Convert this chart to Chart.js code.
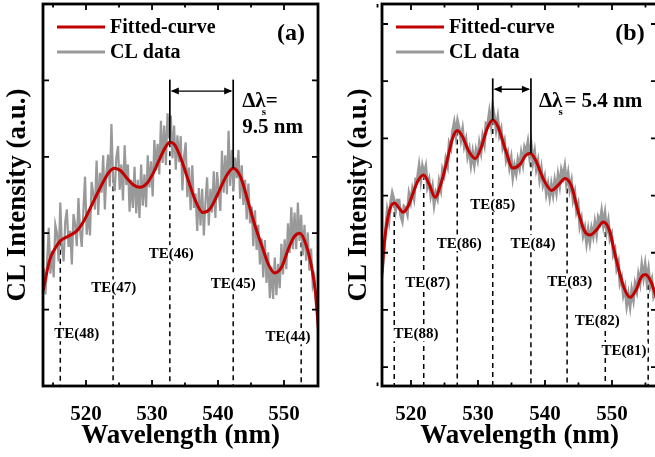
<!DOCTYPE html>
<html><head><meta charset="utf-8">
<script src="https://cdn.jsdelivr.net/npm/chart.js@4.4.0/dist/chart.umd.min.js"></script>
<style>
html,body{margin:0;padding:0;background:#fff;overflow:hidden;width:655px;height:457px;position:relative;}
canvas{position:absolute;top:0;}
</style></head><body>
<canvas id="ca" width="330" height="457" style="left:0"></canvas>
<canvas id="cb" width="335" height="457" style="left:330px"></canvas>
<script>
// ---------------- Panel (a) data ----------------
const A_fitWl = [513.5,514.5,515.3,516.1,517.3,518.6,519.6,520.6,521.6,522.6,523.5,524.3,525.2,526.2,527.2,528.2,529.2,530.2,531.2,532.0,532.7,533.5,534.5,535.5,536.6,537.7,538.8,540.0,541.2,542.3,543.4,544.5,545.6,546.7,547.7,548.6,549.6,550.6,551.5,552.4,553.3,554.2,554.8,555.2];
const A_fitVal = [1.25,1.65,1.80,1.90,1.96,2.03,2.15,2.32,2.50,2.67,2.80,2.85,2.82,2.72,2.63,2.60,2.65,2.79,2.98,3.12,3.19,3.15,2.95,2.69,2.42,2.27,2.32,2.52,2.74,2.85,2.74,2.43,2.10,1.82,1.58,1.48,1.55,1.78,1.95,2.00,1.86,1.55,1.20,0.75];
const A_clStart = 513.6, A_clStep = 0.25;
const A_clVal = [1.54,1.20,1.62,2.07,1.47,1.77,1.42,2.11,2.00,1.63,
2.40,1.82,1.63,2.15,2.31,1.82,2.03,1.59,2.25,2.12,
1.83,2.46,2.04,1.82,2.30,2.74,1.98,2.28,1.97,2.67,
2.51,2.31,2.95,2.24,2.79,2.53,3.02,2.31,2.80,3.03,
2.61,3.43,2.70,2.55,3.00,3.14,2.57,2.90,2.43,3.15,
2.63,2.90,2.28,2.70,2.33,2.87,2.26,2.70,2.20,2.90,
2.36,2.77,2.34,3.02,2.60,2.94,2.48,3.22,2.82,3.17,
2.77,3.47,2.92,3.41,2.89,3.57,3.24,3.54,2.98,3.41,
2.83,3.28,2.93,3.27,2.56,3.00,3.19,2.47,2.86,2.30,
2.89,2.33,2.52,2.03,2.59,2.10,2.58,1.97,2.42,2.73,
2.10,2.58,2.27,2.81,2.20,2.80,2.59,2.29,3.08,2.53,
3.02,2.51,3.34,2.62,3.09,2.55,2.99,2.72,3.09,2.45,
2.89,2.37,2.70,2.18,2.65,2.13,2.35,1.83,2.30,1.78,
2.11,1.59,1.93,1.42,1.91,1.35,1.75,1.15,1.56,1.14,
1.68,1.19,1.60,1.28,1.86,1.46,1.92,1.53,2.13,1.74,
2.34,1.79,2.27,1.79,2.40,1.90,2.24,1.71,2.11,1.64,
2.01,1.51,1.80,1.32,1.42,1.03,0.95];
const A_modes = ['TE(48)','TE(47)','TE(46)','TE(45)','TE(44)'];
const A_peakWl = [516.1,524.1,532.7,542.3,552.6];
const A_peakVal = [1.90,2.85,3.19,2.85,2.00];
const A_labelWl = [518.6,524.2,532.9,542.3,550.6];
const A_labelVal = [0.69,1.29,1.74,1.35,0.65];
const A_spacingWl = [532.7,542.3];
const A_xTicks = [520,530,540,550];
const A_xMinor = [515,525,535,545];
const A_yTicks = [1,2,3,4];

// ---------------- Panel (b) data ----------------
const B_fitWl = [515.6,516.0,516.4,516.9,517.5,518.1,518.8,519.5,520.3,521.0,521.9,522.7,523.6,524.5,525.4,526.2,526.9,527.7,528.6,529.6,530.5,531.4,532.2,533.0,534.1,535.2,536.3,537.1,537.8,538.6,539.8,541.0,542.1,543.0,543.9,545.0,545.9,546.7,547.7,548.7,549.6,550.5,551.7,552.7,553.6,554.4,555.0,555.8,556.8];
const B_fitVal = [2.55,3.15,3.52,3.78,3.87,3.80,3.71,3.80,4.04,4.25,4.36,4.20,3.97,4.22,4.62,5.00,5.14,5.03,4.78,4.65,4.85,5.18,5.32,5.20,4.80,4.48,4.55,4.70,4.74,4.62,4.28,4.09,4.20,4.30,4.18,3.70,3.38,3.31,3.40,3.54,3.40,2.95,2.42,2.22,2.35,2.58,2.62,2.50,2.15];
const B_clStart = 515.7, B_clStep = 0.25;
const B_clVal = [2.65,2.98,3.40,3.73,3.56,3.87,4.04,3.93,3.74,3.92,
3.92,3.66,3.56,3.81,3.78,3.68,4.02,3.89,4.10,3.96,
4.29,4.29,4.51,4.27,4.51,4.38,4.50,4.16,4.27,4.01,
4.15,3.85,4.04,3.95,4.24,4.11,4.45,4.36,4.63,4.52,
4.91,4.83,5.12,5.27,5.06,5.30,5.17,4.98,5.15,4.87,
4.98,4.69,4.81,4.55,4.75,4.55,4.78,4.64,4.91,4.76,
5.03,4.90,5.26,5.24,5.45,5.24,5.55,5.38,5.16,5.35,
5.06,5.16,4.85,4.95,4.63,4.74,4.50,4.65,4.33,4.52,
4.39,4.62,4.49,4.73,4.56,4.84,4.76,4.93,4.68,4.88,
4.59,4.76,4.47,4.60,4.30,4.47,4.20,4.32,4.04,4.19,
3.98,4.19,4.02,4.25,4.07,4.35,4.18,4.44,4.33,4.50,
4.21,4.38,4.11,4.25,3.93,4.05,3.73,3.84,3.47,3.59,
3.31,3.43,3.18,3.39,3.19,3.42,3.29,3.52,3.33,3.61,
3.53,3.72,3.49,3.68,3.39,3.55,3.24,3.32,2.97,3.05,
2.73,2.83,2.47,2.56,2.27,2.39,2.09,2.27,2.07,2.34,
2.18,2.45,2.33,2.61,2.47,2.77,2.57,2.78,2.51,2.70,
2.42,2.53,2.25,2.34,2.12];
const B_modes = ['TE(88)','TE(87)','TE(86)','TE(85)','TE(84)','TE(83)','TE(82)','TE(81)'];
const B_peakWl = [517.5,521.9,526.9,532.2,537.9,543.3,549.0,555.4];
const B_peakVal = [3.87,4.36,5.14,5.32,4.74,4.28,3.52,2.60];
const B_labelWl = [520.75,522.5,527.2,532.2,538.2,543.7,547.8,551.8];
const B_labelVal = [1.59,2.49,3.17,3.85,3.17,2.50,1.82,1.30];
const B_spacingWl = [532.2,537.9];
const B_xTicks = [520,530,540,550];
const B_xMinor = [515,525,535,545,555];
const B_yTicks = [1,2,3,4,5,6,7];

const SERIF = '"Liberation Serif", "Times New Roman", serif';
const RED = '#c20000', GRAY = '#999999';

function makeDecor(c) {
  return {
    id: 'decor',
    beforeDatasetsDraw(chart) {
      const {ctx, chartArea, scales: {x, y}} = chart;
      ctx.save();
      ctx.strokeStyle = '#000'; ctx.lineWidth = 1.5; ctx.setLineDash([5, 4]);
      c.peakWl.forEach((p, i) => {
        const px = x.getPixelForValue(p);
        ctx.beginPath();
        ctx.moveTo(px, y.getPixelForValue(c.peakVal[i]));
        ctx.lineTo(px, chartArea.bottom);
        ctx.stroke();
      });
      ctx.setLineDash([]);
      ctx.font = 'bold 15px ' + SERIF;
      ctx.textAlign = 'center'; ctx.textBaseline = 'middle';
      c.modes.forEach((m, i) => {
        const cx = x.getPixelForValue(c.labelWl[i]);
        const cy = y.getPixelForValue(c.labelVal[i]);
        const w = ctx.measureText(m).width;
        ctx.fillStyle = '#fff';
        ctx.fillRect(cx - w / 2 - 1, cy - 8, w + 2, 16);
        ctx.fillStyle = '#000';
        ctx.fillText(m, cx, cy + 1);
      });
      ctx.restore();
    },
    afterDatasetsDraw(chart) {
      const {ctx, chartArea, scales: {x, y}} = chart;
      ctx.save();
      ctx.strokeStyle = '#000'; ctx.fillStyle = '#000'; ctx.lineWidth = 1.7;
      const yTop = y.getPixelForValue(c.solidTop);
      const xs = c.spacingWl.map(w => x.getPixelForValue(w));
      c.spacingWl.forEach((w, i) => {
        const pv = c.peakVal[c.peakWl.indexOf(w)];
        ctx.beginPath();
        ctx.moveTo(xs[i], y.getPixelForValue(pv));
        ctx.lineTo(xs[i], yTop);
        ctx.stroke();
      });
      const ay = y.getPixelForValue(c.arrowVal);
      ctx.lineWidth = 1.4;
      ctx.beginPath(); ctx.moveTo(xs[0] + 2, ay); ctx.lineTo(xs[1] - 2, ay); ctx.stroke();
      const head = (tip, dir) => {
        ctx.beginPath();
        ctx.moveTo(tip, ay);
        ctx.lineTo(tip - dir * 8, ay - 3.5);
        ctx.lineTo(tip - dir * 8, ay + 3.5);
        ctx.closePath(); ctx.fill();
      };
      head(xs[0] + 1, -1); head(xs[1] - 1, 1);
      const x0 = xs[1] + c.textDx;
      const b1 = chartArea.top + 103;
      ctx.textAlign = 'left'; ctx.textBaseline = 'alphabetic';
      ctx.font = 'bold 21px ' + SERIF;
      ctx.fillText('\u0394\u03bb', x0, b1);
      const w = ctx.measureText('\u0394\u03bb').width;
      ctx.fillText(c.eqText, x0 + w + c.eqGap, b1);
      if (c.line2) ctx.fillText(c.line2, x0, chartArea.top + 129);
      ctx.font = 'bold 11px ' + SERIF;
      ctx.fillText('s', x0 + w - 4, b1 + 8);
      ctx.restore();
    },
    afterDraw(chart) {
      const {ctx, chartArea: a, scales: {x, y}} = chart;
      ctx.save();
      ctx.strokeStyle = '#000'; ctx.lineWidth = 1.8;
      ctx.beginPath();
      c.xTicks.forEach(v => {
        const px = x.getPixelForValue(v);
        ctx.moveTo(px, a.bottom); ctx.lineTo(px, a.bottom - 6);
        ctx.moveTo(px, a.top); ctx.lineTo(px, a.top + 6);
      });
      c.xMinor.forEach(v => {
        const px = x.getPixelForValue(v);
        ctx.moveTo(px, a.bottom); ctx.lineTo(px, a.bottom - 3.5);
        ctx.moveTo(px, a.top); ctx.lineTo(px, a.top + 3.5);
      });
      c.yTicks.forEach(v => {
        const py = y.getPixelForValue(v);
        ctx.moveTo(a.left, py); ctx.lineTo(a.left + 6, py);
        ctx.moveTo(a.right, py); ctx.lineTo(a.right - 6, py);
      });
      ctx.stroke();
      ctx.lineWidth = 2.8;
      ctx.strokeRect(a.left, a.top, a.right - a.left, a.bottom - a.top);
      const items = [[RED, 'Fitted-curve', 23], [GRAY, 'CL data', 48]];
      ctx.font = 'bold 20px ' + SERIF;
      ctx.textBaseline = 'middle'; ctx.textAlign = 'left';
      items.forEach(([col, txt, dy]) => {
        ctx.strokeStyle = col; ctx.lineWidth = 3;
        ctx.beginPath();
        ctx.moveTo(a.left + 14, a.top + dy); ctx.lineTo(a.left + 62, a.top + dy);
        ctx.stroke();
        ctx.fillStyle = '#000';
        ctx.fillText(txt, a.left + 67, a.top + dy + 1);
      });
      ctx.font = 'bold 24px ' + SERIF;
      ctx.textAlign = 'center';
      ctx.fillText(c.panel, a.right - 27, a.top + 30);
      ctx.restore();
    }
  };
}

function makeChart(id, c) {
  const fit = c.fitWl.map((w, i) => ({x: w, y: c.fitVal[i]}));
  const cl = c.clVal.map((v, i) => ({x: +(c.clStart + i * c.clStep).toFixed(2), y: v}));
  return new Chart(document.getElementById(id), {
    type: 'line',
    data: {
      datasets: [
        {label: 'Fitted-curve', data: fit, borderColor: RED, borderWidth: 3,
         pointRadius: 0, cubicInterpolationMode: 'monotone', fill: false},
        {label: 'CL data', data: cl, borderColor: GRAY, borderWidth: c.clWidth,
         pointRadius: 0, tension: 0, fill: false}
      ]
    },
    options: {
      responsive: false, animation: false, devicePixelRatio: 1,
      layout: {padding: {top: 4, right: c.padRight, bottom: 0, left: 0}},
      plugins: {legend: {display: false}, tooltip: {enabled: false}},
      scales: {
        x: {
          type: 'linear', min: c.xMin, max: c.xMax,
          grid: {display: false}, border: {display: false},
          afterBuildTicks: s => { s.ticks = c.xTicks.map(v => ({value: v})); },
          afterFit: s => { s.height = 71; },
          ticks: {color: '#000', padding: 8, maxRotation: 0,
                  font: {family: SERIF, weight: 'bold', size: 21, lineHeight: 1.2}},
          title: {display: true, text: 'Wavelength (nm)', color: '#000',
                  padding: {top: 0, bottom: 5},
                  font: {family: SERIF, weight: 'bold', size: 27, lineHeight: 1.2}}
        },
        y: {
          min: c.yMin, max: c.yMax,
          grid: {display: false}, border: {display: false},
          ticks: {display: false},
          afterFit: s => { s.width = c.yWidth; },
          title: {display: true, text: 'CL Intensity (a.u.)', color: '#000',
                  padding: {top: c.yTitlePad, bottom: 0},
                  font: {family: SERIF, weight: 'bold', size: 27, lineHeight: 1.2}}
        }
      }
    },
    plugins: [makeDecor(c)]
  });
}

makeChart('ca', {
  fitWl: A_fitWl, fitVal: A_fitVal, clStart: A_clStart, clStep: A_clStep, clVal: A_clVal,
  modes: A_modes, peakWl: A_peakWl, peakVal: A_peakVal, labelWl: A_labelWl, labelVal: A_labelVal,
  spacingWl: A_spacingWl, solidTop: 4.01, arrowVal: 3.86,
  xTicks: A_xTicks, xMinor: A_xMinor, yTicks: A_yTicks,
  xMin: 513.48, xMax: 555.15, yMin: 0, yMax: 5,
  yWidth: 43, padRight: 12, yTitlePad: 2, clWidth: 2.2,
  textDx: 9, eqText: '=', eqGap: 0, line2: '9.5 nm', panel: '(a)'
});

makeChart('cb', {
  fitWl: B_fitWl, fitVal: B_fitVal, clStart: B_clStart, clStep: B_clStep, clVal: B_clVal,
  modes: B_modes, peakWl: B_peakWl, peakVal: B_peakVal, labelWl: B_labelWl, labelVal: B_labelVal,
  spacingWl: B_spacingWl, solidTop: 6.05, arrowVal: 5.86,
  xTicks: B_xTicks, xMinor: B_xMinor, yTicks: B_yTicks,
  xMin: 515.67, xMax: 556.72, yMin: 0.67, yMax: 7.35,
  yWidth: 52, padRight: 8, yTitlePad: 13, clWidth: 3,
  textDx: 8, eqText: '= 5.4 nm', eqGap: 2, line2: null, panel: '(b)'
});
</script>
</body></html>
